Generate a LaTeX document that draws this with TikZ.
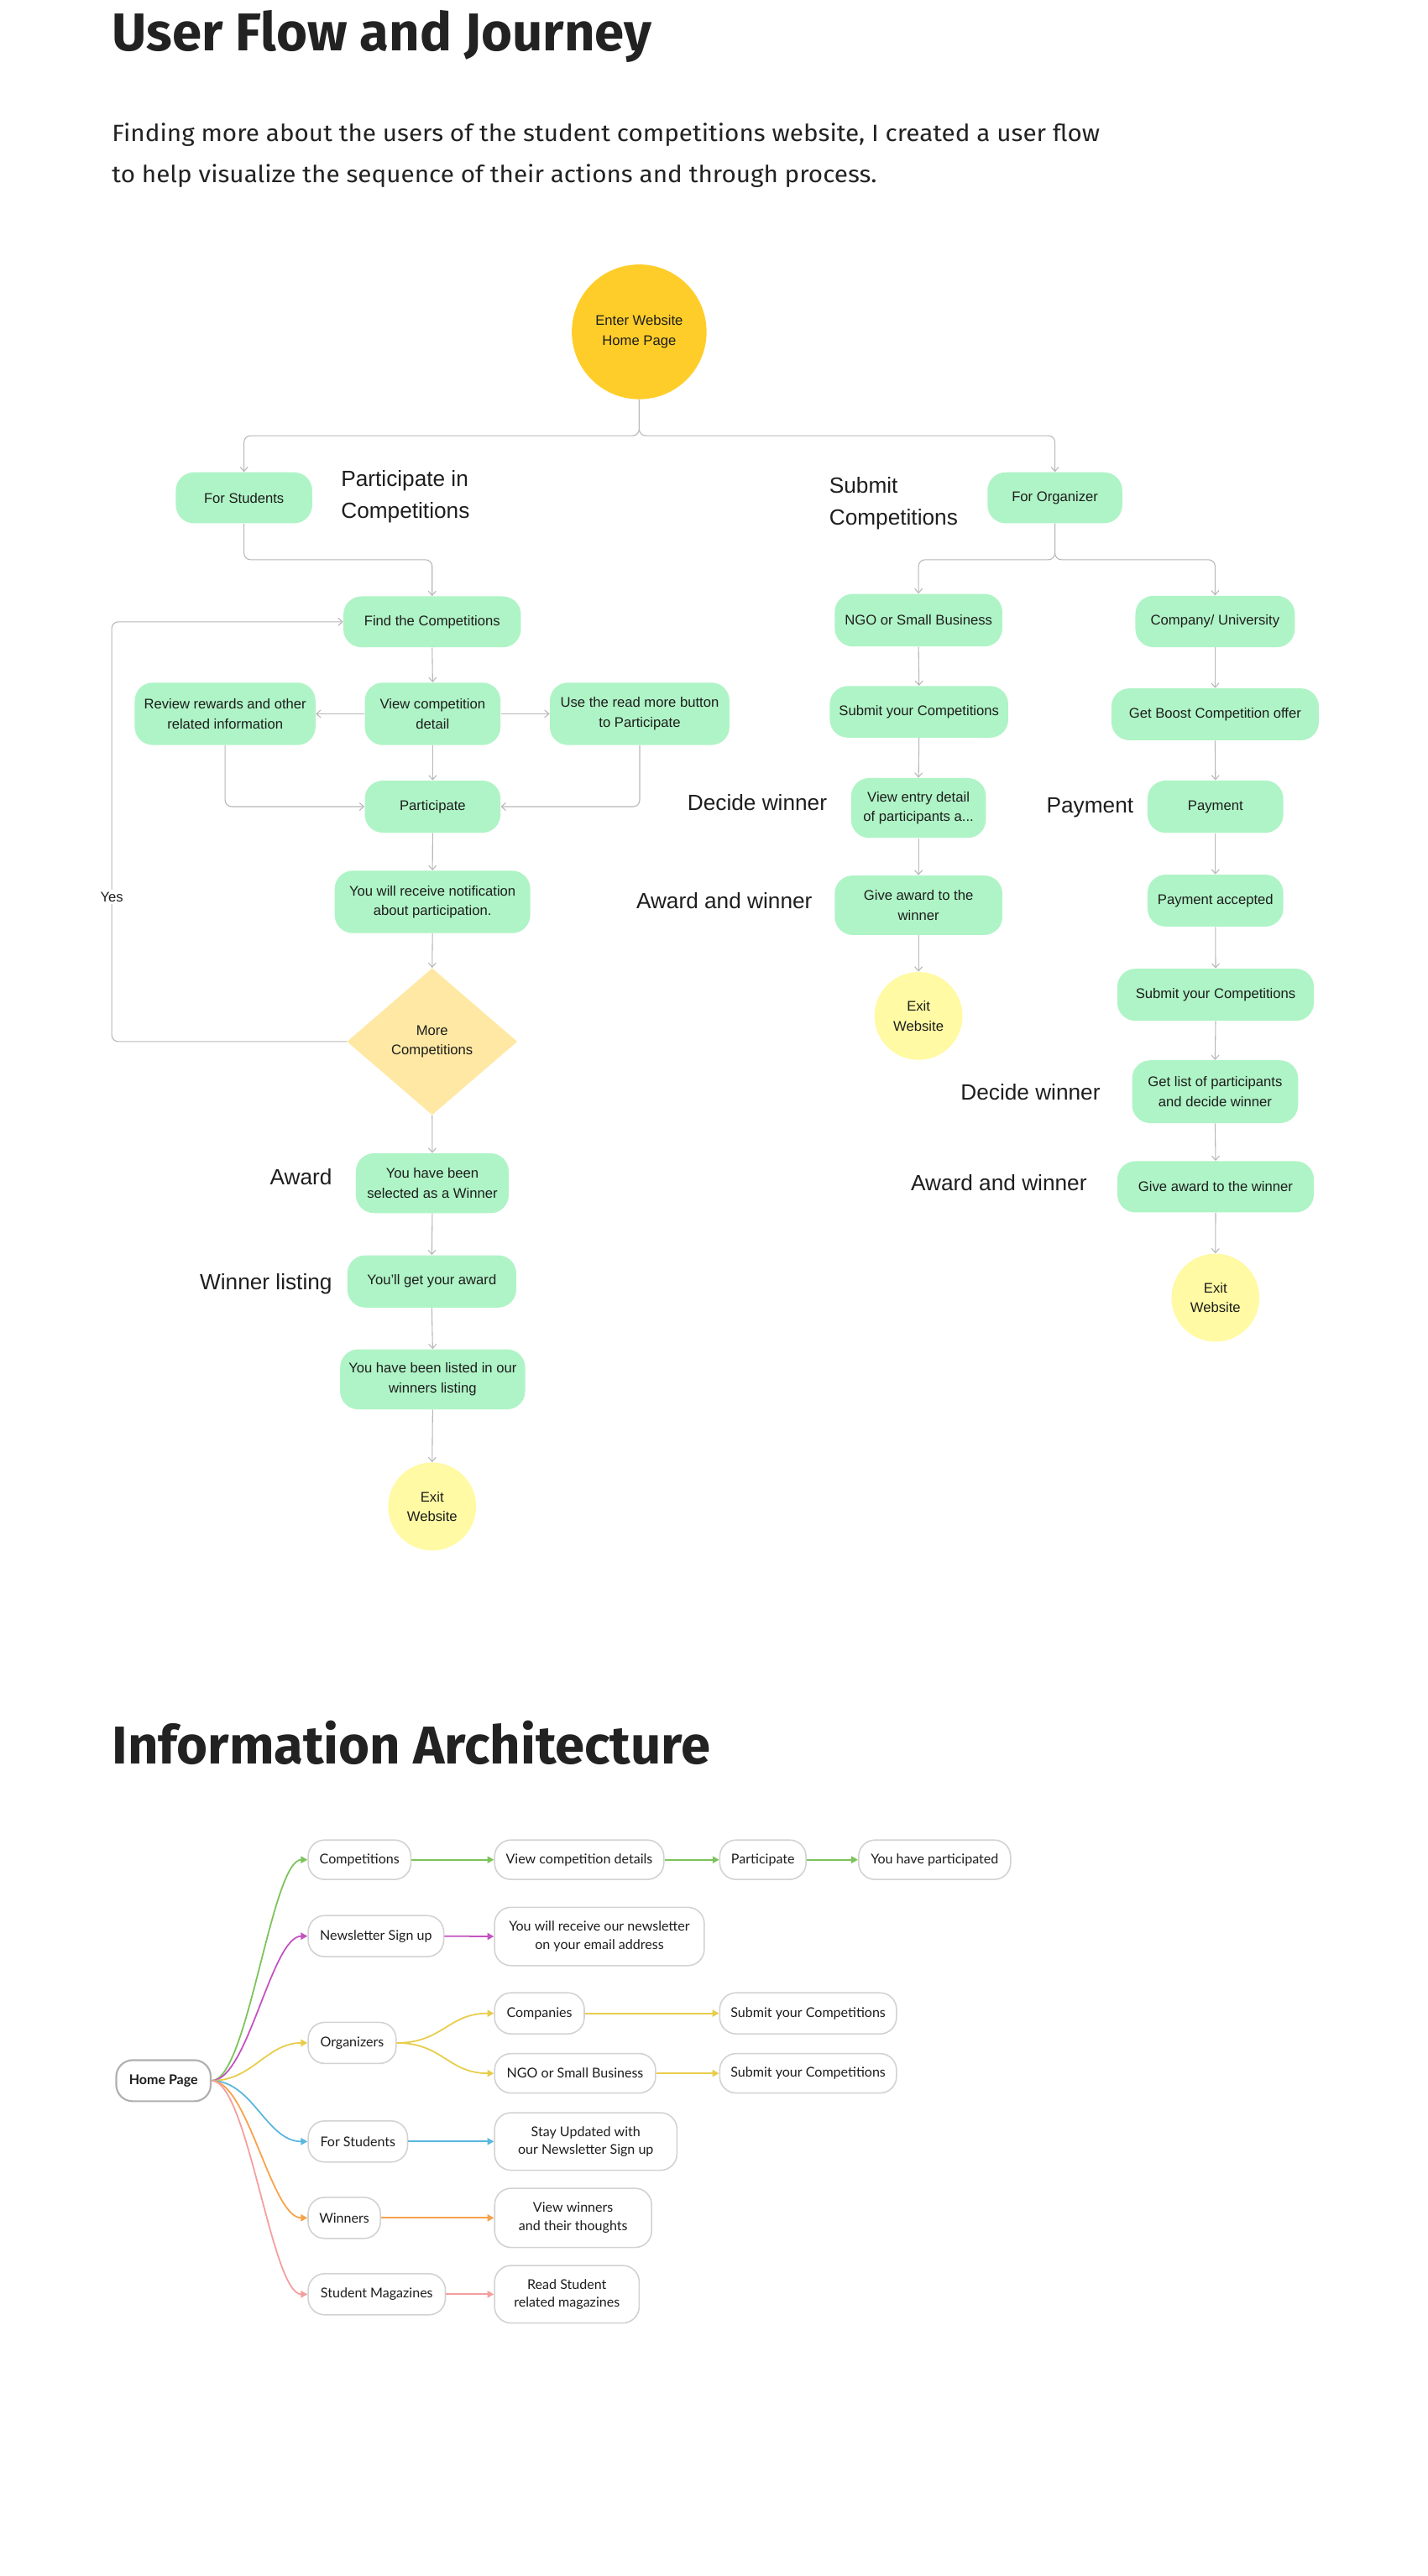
\documentclass[tikz,border=0pt]{standalone}
\usepackage{fontspec}
\setmainfont{Liberation Sans}
\newfontfamily\headfont{Fira Sans}
\newfontfamily\introfont{Fira Sans}[FakeStretch=1.06]
\newfontfamily\iafont{Lato}
\usetikzlibrary{arrows.meta,shapes.geometric}
\definecolor{mint}{HTML}{AFF4C6}
\definecolor{entery}{HTML}{FFCD29}
\definecolor{exity}{HTML}{FFFAA3}
\definecolor{diam}{HTML}{FFE8A3}
\definecolor{lineg}{HTML}{B8B8B8}
\definecolor{ink}{HTML}{1E1E1E}
\definecolor{headink}{HTML}{222222}
\definecolor{iaborder}{HTML}{D2D2D2}
\definecolor{homeborder}{HTML}{B0B0B0}
\definecolor{igreen}{HTML}{7CC35A}
\definecolor{imag}{HTML}{C353C0}
\definecolor{iyel}{HTML}{E8CD4B}
\definecolor{iblue}{HTML}{5AB7DE}
\definecolor{iorange}{HTML}{F7A24B}
\definecolor{ipink}{HTML}{F59E9E}
\newcommand\fsz[2]{\fontsize{#1}{#2}\selectfont}
\tikzset{
  fnode/.style={fill=mint, rounded corners=11pt, align=center, inner sep=0pt, text=ink, font=\fsz{8.5}{12}},
  exitnode/.style={circle, fill=exity, inner sep=0pt, align=center, text=ink, minimum size=53.5pt, font=\fsz{8.5}{12}},
  lab/.style={text=ink, inner sep=0pt, align=left, font=\fsz{13.4}{19}},
  conn/.style={draw=lineg, line width=0.55pt, rounded corners=4pt, -{Straight Barb[length=2.6pt,width=4.6pt]}},
  ianode/.style={draw=iaborder, line width=0.8pt, fill=white, rounded corners=10pt, align=center, inner sep=0pt, text=ink, font=\iafont\fsz{8.2}{11}},
  iaarrow/.style={line width=0.9pt, -{Triangle[length=4pt,width=4.2pt]}},
  heading/.style={text=headink, inner sep=0pt, anchor=base west, font=\headfont\bfseries\fsz{32.4}{36}},
  intro/.style={text=headink, inner sep=0pt, anchor=base west, font=\introfont\fsz{14.3}{16}},
}
\begin{document}
\begin{tikzpicture}[x=1pt,y=-1pt]
\useasboundingbox (0,0) rectangle (869,1568);
\fill[white] (0,0) rectangle (869,1568);

% ---------- Heading and intro ----------
\node[heading] (title1) at (68,30.7) {User Flow and Journey};
\node[intro] (intro1) at (68,86) {Finding more about the users of the student competitions website, I created a user flow};
\node[intro] (intro2) at (68,111) {to help visualize the sequence of their actions and through process.};

% ---------- User flow nodes ----------
\node[circle, fill=entery, minimum size=82pt, inner sep=0pt, align=center, text=ink, font=\fsz{8.5}{12}] (enter) at (389,202) {Enter Website\\Home Page};

\node[fnode, minimum width=83pt, minimum height=31pt] (fstu) at (148.5,303) {For Students};
\node[fnode, minimum width=82pt, minimum height=31pt] (forg) at (642,303) {For Organizer};

\node[lab, anchor=west] (lpart) at (207.4,302.3) {Participate in\\Competitions};
\node[lab, anchor=west] (lsub) at (504.5,306.4) {Submit\\Competitions};

% students column
\node[fnode, minimum width=108pt, minimum height=31pt] (find) at (263,378.5) {Find the Competitions};
\node[fnode, minimum width=110pt, minimum height=38pt] (rev) at (137,434.5) {Review rewards and other\\related information};
\node[fnode, minimum width=82.6pt, minimum height=38pt] (view) at (263.3,434.5) {View competition\\detail};
\node[fnode, minimum width=109.3pt, minimum height=38pt] (use) at (389.3,434.5) {Use the read more button\\to Participate};
\node[fnode, minimum width=82.6pt, minimum height=31.7pt] (part) at (263.3,491) {Participate};
\node[fnode, minimum width=119pt, minimum height=38pt] (notif) at (263.2,549) {You will receive notification\\about participation.};
\node[diamond, fill=diam, minimum width=103.7pt, minimum height=89.4pt, aspect=1.16, inner sep=0pt, align=center, text=ink, font=\fsz{8.5}{12}] (dia) at (263,634) {More\\Competitions};
\node[fnode, minimum width=93pt, minimum height=36.4pt] (winr) at (263.1,720.2) {You have been\\selected as a Winner};
\node[fnode, minimum width=102.8pt, minimum height=31.8pt] (getaw) at (262.8,780) {You'll get your award};
\node[fnode, minimum width=112.6pt, minimum height=36.5pt] (listed) at (263.3,839.6) {You have been listed in our\\winners listing};
\node[exitnode] (exit1) at (263,917) {Exit\\Website};

\node[lab, anchor=base east] (laward) at (202.3,721.4) {Award};
\node[lab, anchor=base east] (lwlist) at (202.3,784.8) {Winner listing};

% NGO column
\node[fnode, minimum width=102pt, minimum height=32pt] (ngo) at (559,377.5) {NGO or Small Business};
\node[fnode, minimum width=108.6pt, minimum height=31.4pt] (sub1) at (559.3,433.3) {Submit your Competitions};
\node[fnode, minimum width=82pt, minimum height=36.4pt] (ventry) at (559,491.8) {View entry detail\\of participants a...};
\node[fnode, minimum width=102pt, minimum height=36.2pt] (give1) at (559,551) {Give award to the\\winner};
\node[exitnode] (exit2) at (559,618.4) {Exit\\Website};

\node[lab, anchor=base east] (ldec1) at (503.5,493.2) {Decide winner};
\node[lab, anchor=base east] (lawd1) at (494.5,553.1) {Award and winner};

% Company column
\node[fnode, minimum width=97pt, minimum height=31.3pt] (compu) at (739.5,378.3) {Company/ University};
\node[fnode, minimum width=126.2pt, minimum height=31.6pt] (boost) at (739.5,434.8) {Get Boost Competition offer};
\node[fnode, minimum width=82.6pt, minimum height=31.8pt] (pay) at (739.7,491) {Payment};
\node[fnode, minimum width=82.6pt, minimum height=31.6pt] (payacc) at (739.7,548.2) {Payment accepted};
\node[fnode, minimum width=119.6pt, minimum height=31.7pt] (sub2) at (739.8,605.5) {Submit your Competitions};
\node[fnode, minimum width=101pt, minimum height=38.2pt] (getlist) at (739.5,664.5) {Get list of participants\\and decide winner};
\node[fnode, minimum width=119.6pt, minimum height=31.2pt] (give2) at (739.8,722.4) {Give award to the winner};
\node[exitnode] (exit3) at (739.7,789.9) {Exit\\Website};

\node[lab, anchor=base east] (lpay) at (690,494.6) {Payment};
\node[lab, anchor=base east] (ldec2) at (669.8,669.6) {Decide winner};
\node[lab, anchor=base east] (lawd2) at (661.6,724.8) {Award and winner};

% ---------- User flow connectors ----------
\draw[conn] (enter.south) -- ++(0,22) -| (fstu.north);
\draw[conn] (enter.south) -- ++(0,22) -| (forg.north);
\draw[conn] (fstu.south) -- ++(0,22) -| (find.north);
\draw[conn] (find.south) -- (view.north);
\draw[conn] (view.west) -- (rev.east);
\draw[conn] (view.east) -- (use.west);
\draw[conn] (view.south) -- (part.north);
\draw[conn] (rev.south) |- (part.west);
\draw[conn] (use.south) |- (part.east);
\draw[conn] (part.south) -- (notif.north);
\draw[conn] (notif.south) -- (dia.north);
\draw[conn] (dia.west) -- (68,634) |- (find.west);
\node[fill=white, inner sep=1.5pt, text=ink, font=\fsz{8.5}{10}] (yes) at (68,546) {Yes};
\draw[conn] (dia.south) -- (winr.north);
\draw[conn] (winr.south) -- (getaw.north);
\draw[conn] (getaw.south) -- (listed.north);
\draw[conn] (listed.south) -- (exit1.north);

\draw[conn] (forg.south) -- ++(0,22) -| (ngo.north);
\draw[conn] (forg.south) -- ++(0,22) -| (compu.north);
\draw[conn] (ngo.south) -- (sub1.north);
\draw[conn] (sub1.south) -- (ventry.north);
\draw[conn] (ventry.south) -- (give1.north);
\draw[conn] (give1.south) -- (exit2.north);

\draw[conn] (compu.south) -- (boost.north);
\draw[conn] (boost.south) -- (pay.north);
\draw[conn] (pay.south) -- (payacc.north);
\draw[conn] (payacc.south) -- (sub2.north);
\draw[conn] (sub2.south) -- (getlist.north);
\draw[conn] (getlist.south) -- (give2.north);
\draw[conn] (give2.south) -- (exit3.north);

% ---------- Information Architecture ----------
\node[heading] (title2) at (68,1073.5) {Information Architecture};

\node[ianode, draw=homeborder, line width=1.1pt, minimum width=57.5pt, minimum height=25pt, font=\iafont\bfseries\fsz{8.2}{11}] (home) at (99.5,1266.5) {Home Page};

\node[ianode, minimum width=62.5pt, minimum height=24pt] (icomp) at (218.8,1132) {Competitions};
\node[ianode, minimum width=103pt, minimum height=24pt] (iviewc) at (352.5,1132) {View competition details};
\node[ianode, minimum width=52.5pt, minimum height=24pt] (ipart) at (464.3,1132) {Participate};
\node[ianode, minimum width=92.5pt, minimum height=24pt] (iyoup) at (568.8,1132) {You have participated};

\node[ianode, minimum width=82.5pt, minimum height=25pt] (inews) at (228.8,1178.5) {Newsletter Sign up};
\node[ianode, minimum width=127.6pt, minimum height=35.5pt] (irecv) at (364.8,1178.7) {You will receive our newsletter\\on your email address};

\node[ianode, minimum width=53.5pt, minimum height=25pt] (iorg) at (214.3,1243.5) {Organizers};
\node[ianode, minimum width=54.6pt, minimum height=25pt] (icompn) at (328.3,1225.5) {Companies};
\node[ianode, minimum width=98pt, minimum height=24pt] (ingo) at (350,1262) {NGO or Small Business};
\node[ianode, minimum width=107.6pt, minimum height=25pt] (isub1) at (491.8,1225.5) {Submit your Competitions};
\node[ianode, minimum width=107.6pt, minimum height=24pt] (isub2) at (491.8,1262) {Submit your Competitions};

\node[ianode, minimum width=60.5pt, minimum height=25pt] (istud) at (217.8,1303.5) {For Students};
\node[ianode, minimum width=111pt, minimum height=35pt] (istay) at (356.5,1303.5) {Stay Updated with\\our Newsletter Sign up};

\node[ianode, minimum width=44pt, minimum height=25pt] (iwin) at (209.5,1350) {Winners};
\node[ianode, minimum width=95.5pt, minimum height=36pt] (ivwin) at (348.8,1350) {View winners\\and their thoughts};

\node[ianode, minimum width=83.5pt, minimum height=25pt] (imag) at (229.3,1396.5) {Student Magazines};
\node[ianode, minimum width=88pt, minimum height=35pt] (iread) at (345,1396.5) {Read Student\\related magazines};

% IA connectors
\draw[iaarrow, igreen] (home.east) .. controls +(22,0) and +(-22,0) .. (icomp.west);
\draw[iaarrow, imag] (home.east) .. controls +(22,0) and +(-22,0) .. (inews.west);
\draw[iaarrow, iyel] (home.east) .. controls +(25,0) and +(-25,0) .. (iorg.west);
\draw[iaarrow, iblue] (home.east) .. controls +(25,0) and +(-25,0) .. (istud.west);
\draw[iaarrow, iorange] (home.east) .. controls +(22,0) and +(-22,0) .. (iwin.west);
\draw[iaarrow, ipink] (home.east) .. controls +(22,0) and +(-22,0) .. (imag.west);

\draw[iaarrow, igreen] (icomp.east) -- (iviewc.west);
\draw[iaarrow, igreen] (iviewc.east) -- (ipart.west);
\draw[iaarrow, igreen] (ipart.east) -- (iyoup.west);
\draw[iaarrow, imag] (inews.east) -- (irecv.west);
\draw[iaarrow, iyel] (iorg.east) .. controls +(28,0) and +(-28,0) .. (icompn.west);
\draw[iaarrow, iyel] (iorg.east) .. controls +(28,0) and +(-28,0) .. (ingo.west);
\draw[iaarrow, iyel] (icompn.east) -- (isub1.west);
\draw[iaarrow, iyel] (ingo.east) -- (isub2.west);
\draw[iaarrow, iblue] (istud.east) -- (istay.west);
\draw[iaarrow, iorange] (iwin.east) -- (ivwin.west);
\draw[iaarrow, ipink] (imag.east) -- (iread.west);
\end{tikzpicture}
\end{document}
